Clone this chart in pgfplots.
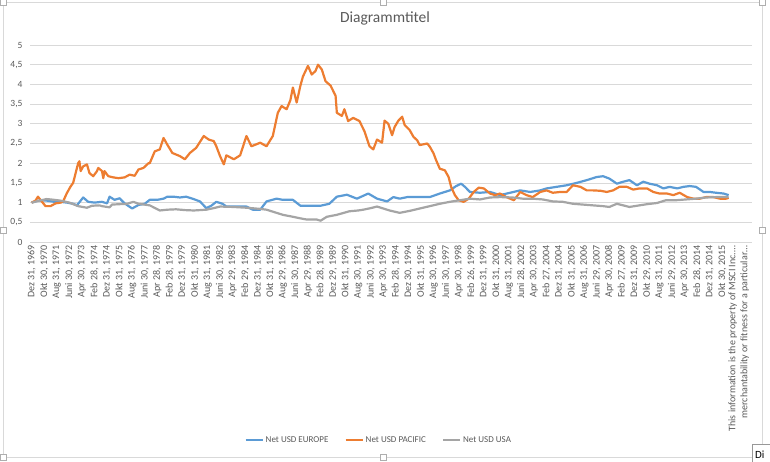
\documentclass[border=0pt]{standalone}
\usepackage{fontspec}
\setmainfont{Carlito}
\usepackage{pgfplots}
\pgfplotsset{compat=1.18}
\definecolor{cEur}{HTML}{5B9BD5}
\definecolor{cPac}{HTML}{ED7D31}
\definecolor{cUsa}{HTML}{A5A5A5}
\definecolor{txtgray}{HTML}{595959}
\definecolor{gridgray}{HTML}{D9D9D9}
\newcommand{\msci}{This information is the property of MSCI Inc.\ldots\\merchantability or fitness for a particular\ldots}
\begin{document}
\begin{tikzpicture}
\useasboundingbox (0pt,0pt) rectangle (770pt,-462pt);
% chart frame and selection handles
\draw[gridgray, line width=0.8pt] (3pt,-2pt) rectangle (762pt,-457pt);
\foreach \p in {(3pt,-2pt),(383pt,-2pt),(762pt,-2pt),(3pt,-230pt),(762pt,-230pt),(3pt,-457pt),(383pt,-457pt),(762pt,-457pt)}
  \draw[gridgray!80!black, fill=white, line width=0.5pt] \p ++(-3pt,-3pt) rectangle ++(6pt,6pt);
\node[font=\fontsize{15.5}{18}\selectfont, text=txtgray] at (385pt,-18pt) {Diagrammtitel};
\begin{axis}[
  at={(30pt,-242pt)}, anchor=south west,
  scale only axis, width=722pt, height=197pt,
  xmin=-1.35, xmax=573.6, ymin=0, ymax=5,
  axis line style={draw=none}, tick style={draw=none},
  ymajorgrids, grid style={gridgray, line width=0.8pt},
  ytick={0,0.5,1,1.5,2,2.5,3,3.5,4,4.5,5},
  yticklabels={0,{0,5},1,{1,5},2,{2,5},3,{3,5},4,{4,5},5},
  yticklabel style={font=\fontsize{9.5}{10}\selectfont, text=txtgray, xshift=-4pt},
  xtick={0,10,20,30,40,50,60,70,80,90,100,110,120,130,140,150,160,170,180,190,200,210,220,230,240,250,260,270,280,290,300,310,320,330,340,350,360,370,380,390,400,410,420,430,440,450,460,470,480,490,500,510,520,530,540,550,563},
  xticklabels={{Dez 31, 1969},{Okt 30, 1970},{Aug 31, 1971},{Juni 30, 1972},{Apr 30, 1973},{Feb 28, 1974},{Dez 31, 1974},{Okt 31, 1975},{Aug 31, 1976},{Juni 30, 1977},{Apr 28, 1978},{Feb 28, 1979},{Dez 31, 1979},{Okt 31, 1980},{Aug 31, 1981},{Juni 30, 1982},{Apr 29, 1983},{Feb 29, 1984},{Dez 31, 1984},{Okt 31, 1985},{Aug 29, 1986},{Juni 30, 1987},{Apr 29, 1988},{Feb 28, 1989},{Dez 29, 1989},{Okt 31, 1990},{Aug 30, 1991},{Juni 30, 1992},{Apr 30, 1993},{Feb 28, 1994},{Dez 30, 1994},{Okt 31, 1995},{Aug 30, 1996},{Juni 30, 1997},{Apr 30, 1998},{Feb 26, 1999},{Dez 31, 1999},{Okt 31, 2000},{Aug 31, 2001},{Juni 28, 2002},{Apr 30, 2003},{Feb 27, 2004},{Dez 31, 2004},{Okt 31, 2005},{Aug 31, 2006},{Juni 29, 2007},{Apr 30, 2008},{Feb 27, 2009},{Dez 31, 2009},{Okt 29, 2010},{Aug 31, 2011},{Juni 29, 2012},{Apr 30, 2013},{Feb 28, 2014},{Dez 31, 2014},{Okt 30, 2015},{\msci}},
  xticklabel style={font=\fontsize{10}{12}\selectfont, text=txtgray, rotate=90, anchor=east, align=right, yshift=0pt},
  legend style={at={(0.483,-1.005)}, anchor=center, draw=none, fill=none,
    font=\fontsize{9}{10}\selectfont, text=txtgray,
    /tikz/every even column/.append style={column sep=14pt}},
  legend columns=3, legend cell align=left,
  every axis plot/.append style={line width=2.2pt, line join=round},
]
\addplot[cEur] coordinates {(0,1.00)(5,1.05)(12,1.05)(18,1.02)(23,1.02)(28,1.00)(33,0.97)(36,0.93)(41,1.13)(45,1.02)(50,1.00)(56,1.02)(60,0.98)(62,1.15)(66,1.07)(70,1.11)(74,0.98)(80,0.85)(85,0.94)(90,0.97)(94,1.07)(100,1.07)(105,1.10)(108,1.15)(113,1.15)(118,1.13)(123,1.15)(128,1.10)(134,1.03)(139,0.86)(143,0.92)(147,1.02)(152,0.97)(155,0.90)(163,0.90)(171,0.90)(176,0.82)(182,0.82)(187,1.03)(195,1.10)(200,1.07)(208,1.07)(214,0.92)(222,0.92)(230,0.92)(237,0.97)(243,1.15)(251,1.20)(259,1.10)(268,1.23)(275,1.10)(283,1.03)(288,1.14)(293,1.10)(299,1.14)(309,1.14)(317,1.14)(325,1.23)(333,1.31)(338,1.42)(342,1.48)(345,1.40)(349,1.27)(357,1.25)(365,1.27)(373,1.19)(381,1.25)(389,1.31)(397,1.27)(405,1.31)(410,1.36)(418,1.40)(426,1.44)(434,1.50)(442,1.57)(450,1.65)(455,1.67)(460,1.61)(466,1.48)(471,1.53)(476,1.57)(482,1.44)(487,1.53)(492,1.48)(498,1.44)(503,1.36)(508,1.40)(514,1.36)(519,1.40)(524,1.42)(529,1.40)(535,1.27)(540,1.27)(545,1.25)(551,1.23)(555,1.19)};
\addlegendentry{Net USD EUROPE}
\addplot[cPac] coordinates {(0,1.00)(3,1.05)(5,1.15)(8,1.03)(11,0.91)(15,0.91)(19,0.98)(23,1.00)(25,1.03)(28,1.24)(31,1.41)(33,1.50)(35,1.75)(37,2.00)(38,2.05)(39,1.80)(41,1.92)(44,1.97)(46,1.75)(49,1.67)(52,1.80)(53,1.88)(56,1.80)(57,1.62)(58,1.80)(61,1.67)(65,1.64)(69,1.62)(74,1.64)(78,1.71)(82,1.68)(85,1.84)(89,1.88)(93,2.00)(94,2.00)(98,2.30)(102,2.35)(105,2.64)(108,2.47)(112,2.26)(118,2.18)(122,2.10)(126,2.26)(131,2.39)(137,2.69)(141,2.60)(145,2.56)(147,2.43)(150,2.18)(153,1.97)(155,2.20)(161,2.10)(166,2.20)(171,2.69)(175,2.43)(182,2.52)(187,2.43)(192,2.69)(196,3.28)(199,3.45)(203,3.37)(206,3.60)(208,3.92)(211,3.54)(214,3.97)(216,4.20)(220,4.47)(223,4.25)(226,4.34)(228,4.50)(231,4.38)(234,4.08)(238,3.97)(242,3.71)(243,3.28)(247,3.20)(249,3.37)(252,3.07)(256,3.15)(261,3.07)(265,2.81)(269,2.43)(272,2.35)(275,2.60)(279,2.52)(281,3.08)(284,3.00)(287,2.71)(289,2.92)(292,3.08)(295,3.18)(297,2.97)(301,2.84)(304,2.67)(307,2.58)(309,2.46)(315,2.50)(317,2.42)(320,2.25)(322,2.08)(325,1.86)(329,1.82)(332,1.65)(334,1.40)(337,1.19)(340,1.06)(344,1.02)(348,1.10)(352,1.27)(356,1.38)(360,1.36)(365,1.23)(369,1.19)(373,1.23)(378,1.14)(384,1.06)(389,1.27)(394,1.19)(399,1.14)(405,1.27)(410,1.31)(415,1.25)(421,1.27)(426,1.27)(431,1.44)(437,1.40)(442,1.31)(447,1.31)(453,1.30)(458,1.27)(463,1.31)(468,1.40)(474,1.40)(479,1.33)(484,1.36)(490,1.36)(495,1.27)(500,1.23)(506,1.23)(511,1.19)(516,1.25)(522,1.14)(527,1.10)(532,1.10)(537,1.14)(543,1.14)(548,1.10)(553,1.10)(555,1.12)};
\addlegendentry{Net USD PACIFIC}
\addplot[cUsa] coordinates {(0,1.00)(6,1.05)(12,1.09)(18,1.07)(23,1.05)(30,1.00)(37,0.91)(44,0.87)(48,0.92)(54,0.93)(56,0.91)(62,0.88)(64,0.95)(70,0.96)(76,0.97)(81,1.02)(85,0.97)(94,0.93)(102,0.80)(108,0.82)(115,0.83)(122,0.81)(129,0.80)(139,0.82)(145,0.86)(150,0.90)(160,0.89)(171,0.87)(182,0.84)(187,0.82)(193,0.76)(200,0.69)(208,0.64)(214,0.60)(219,0.57)(227,0.57)(230,0.54)(235,0.64)(243,0.69)(253,0.78)(260,0.80)(264,0.82)(270,0.86)(275,0.90)(279,0.86)(285,0.80)(293,0.74)(301,0.79)(309,0.85)(317,0.91)(325,0.97)(333,1.02)(341,1.06)(349,1.10)(357,1.08)(365,1.13)(373,1.14)(383,1.13)(391,1.10)(399,1.10)(407,1.08)(415,1.03)(423,1.02)(431,0.97)(439,0.95)(447,0.93)(455,0.91)(460,0.89)(466,0.97)(471,0.93)(476,0.89)(484,0.93)(490,0.96)(498,0.99)(505,1.06)(513,1.06)(521,1.08)(529,1.10)(537,1.13)(545,1.14)(555,1.14)};
\addlegendentry{Net USD USA}
\end{axis}
% tooltip fragment at bottom right
\draw[gridgray!70!black, fill=white, line width=0.5pt] (752pt,-444pt) rectangle (775pt,-466pt);
\node[anchor=west, font=\fontsize{11}{12}\selectfont, inner sep=0pt] at (755pt,-455pt) {Di};
\end{tikzpicture}
\end{document}
